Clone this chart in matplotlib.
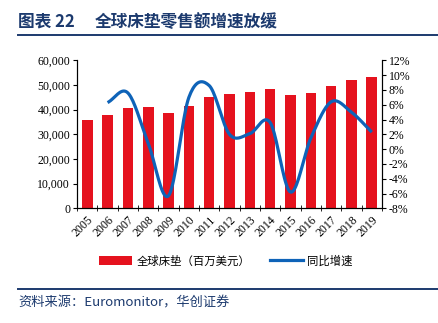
import numpy as np
import matplotlib
matplotlib.use("Agg")
import matplotlib.pyplot as plt
from matplotlib.lines import Line2D
from matplotlib.patches import Patch

years = ["2005", "2006", "2007", "2008", "2009", "2010", "2011", "2012",
         "2013", "2014", "2015", "2016", "2017", "2018", "2019"]
sales = [35700, 38000, 40800, 41200, 38800, 41600, 45300, 46200,
         47200, 48600, 46000, 46600, 49600, 52200, 53400]
growth = [6.3, 7.6, 0.8, -6.3, 7.0, 8.6, 2.0, 2.1, 3.6, -5.8, 1.5, 6.4, 5.0, 2.3]

left_ticks = [0, 10000, 20000, 30000, 40000, 50000, 60000]
right_ticks = list(range(-8, 13, 2))

RED = "#E5121E"
BLUE = "#0E63B8"
NAVY = "#1C3A6E"
CJK = ["Noto Sans CJK SC", "DejaVu Sans"]
SERIF = "Liberation Serif"


def smooth(x, y, n=20):
    # catmull-rom style path through the points, like a spreadsheet "smooth line"
    x = np.asarray(x, float)
    y = np.asarray(y, float)
    px = np.concatenate([[2 * x[0] - x[1]], x, [2 * x[-1] - x[-2]]])
    py = np.concatenate([[2 * y[0] - y[1]], y, [2 * y[-1] - y[-2]]])
    xs, ys = [], []
    t = np.linspace(0, 1, n, endpoint=False)
    for i in range(1, len(px) - 2):
        for arr, out in ((px, xs), (py, ys)):
            p0, p1, p2, p3 = arr[i - 1], arr[i], arr[i + 1], arr[i + 2]
            out.extend(0.5 * ((2 * p1) + (-p0 + p2) * t
                              + (2 * p0 - 5 * p1 + 4 * p2 - p3) * t ** 2
                              + (-p0 + 3 * p1 - 3 * p2 + p3) * t ** 3))
    xs.append(x[-1])
    ys.append(y[-1])
    return np.array(xs), np.array(ys)


fig = plt.figure(figsize=(4.38, 3.23), dpi=100)
ax = fig.add_axes([0.176, 0.355, 0.696, 0.458])

pos = np.arange(len(years))
ax.bar(pos, sales, width=0.52, color=RED, zorder=2)
ax.set_xlim(-0.5, len(years) - 0.5)
ax.set_ylim(0, 60000)
ax.set_yticks(left_ticks)
ax.set_yticklabels([f"{v:,}" for v in left_ticks], fontfamily=SERIF, fontsize=8.5)
ax.set_xticks(pos)
ax.set_xticklabels(years, rotation=45, ha="right", rotation_mode="anchor",
                   fontfamily=SERIF, fontsize=8.5)
ax.set_xticks(np.arange(-0.5, len(years), 1), minor=True)
ax.tick_params(axis="x", which="major", length=0, pad=4)
ax.tick_params(axis="x", which="minor", length=4, direction="inout")
ax.tick_params(axis="y", length=3, pad=2)
ax.spines["top"].set_visible(False)
for s in ("left", "bottom", "right"):
    ax.spines[s].set_linewidth(0.8)

ax2 = ax.twinx()
sx, sy = smooth(pos[1:], growth)
ax2.plot(sx, sy, color=BLUE, lw=2.3, solid_capstyle="butt", zorder=3)
ax2.set_ylim(-8, 12)
ax2.set_yticks(right_ticks)
ax2.set_yticklabels([f"{v}%" for v in right_ticks], fontfamily=SERIF, fontsize=8.5)
ax2.tick_params(axis="y", length=3, pad=2)
ax2.spines["top"].set_visible(False)
ax2.spines["right"].set_linewidth(0.8)

handles = [Patch(facecolor=RED, edgecolor="none"),
           Line2D([], [], color=BLUE, lw=2.3)]
fig.legend(handles, ["全球床垫（百万美元）", "同比增速"], loc="center",
           bbox_to_anchor=(0.516, 0.192), ncol=2, frameon=False,
           prop={"family": CJK, "size": 8.2}, handlelength=2.9,
           handleheight=0.9, columnspacing=1.7, handletextpad=0.4)

fig.text(0.041, 0.932, "图表 22", fontfamily=CJK,
         fontsize=12, fontweight="bold", color=NAVY, va="center")
fig.text(0.217, 0.932, "全球床垫零售额增速放缓", fontfamily=CJK,
         fontsize=12, fontweight="bold", color=NAVY, va="center")
fig.add_artist(Line2D([0.041, 1.0], [0.892, 0.892], color=NAVY, lw=1.4))
fig.add_artist(Line2D([0.041, 1.0], [0.106, 0.106], color=NAVY, lw=1.4))
fig.text(0.043, 0.062, "资料来源：Euromonitor，华创证券", fontfamily=CJK,
         fontsize=9.5, style="italic", color=NAVY, va="center")

fig.savefig("out.png", dpi=100)
